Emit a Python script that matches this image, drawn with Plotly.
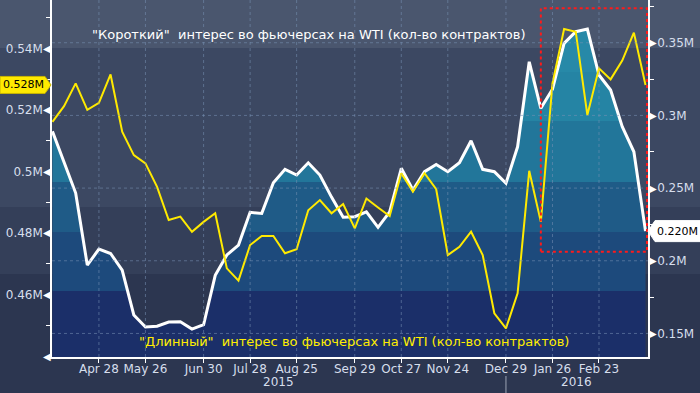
import plotly.graph_objects as go
import pandas as pd

# ---------------- data ----------------
dates = pd.date_range("2015-03-31", periods=52, freq="7D")

# "Короткий" (short) interest, millions of contracts (right axis, white)
short_vals = [0.289, 0.268, 0.2466, 0.197, 0.208, 0.205, 0.1936, 0.1627, 0.1544, 0.155,
              0.1578, 0.158, 0.153, 0.156, 0.190, 0.204, 0.2108, 0.2333, 0.2326, 0.2537,
              0.2629, 0.259, 0.2674, 0.259, 0.2438, 0.2299, 0.2303, 0.2337, 0.223, 0.2337,
              0.2636, 0.2487, 0.2613, 0.2663, 0.2613, 0.2674, 0.2826, 0.2629, 0.2613, 0.2533,
              0.2784, 0.3369, 0.3049, 0.318, 0.3496, 0.3576, 0.3594, 0.3278, 0.3175, 0.2922,
              0.275, 0.2204]

# "Длинный" (long) interest, millions of contracts (left axis, yellow)
long_vals = [0.5161, 0.5212, 0.5286, 0.52, 0.5223, 0.5315, 0.5129, 0.5053, 0.5026, 0.495,
             0.4842, 0.4853, 0.4804, 0.4836, 0.4864, 0.4685, 0.4645, 0.4761, 0.479, 0.479,
             0.4734, 0.4747, 0.4874, 0.4907, 0.4864, 0.4894, 0.4815, 0.4912, 0.4883, 0.4855,
             0.4994, 0.4934, 0.4994, 0.4942, 0.4728, 0.4755, 0.4804, 0.4728, 0.4539, 0.449,
             0.4604, 0.5002, 0.4836, 0.5286, 0.5463, 0.5454, 0.5183, 0.5335, 0.5299, 0.536,
             0.5451, 0.5281]

tick_dates = ["2015-04-28", "2015-05-26", "2015-06-30", "2015-07-28", "2015-08-25",
              "2015-09-29", "2015-10-27", "2015-11-24", "2015-12-29", "2016-01-26",
              "2016-02-23"]
tick_text = ["Apr 28", "May 26", "Jun 30", "Jul 28", "Aug 25", "Sep 29", "Oct 27",
             "Nov 24", "Dec 29", "Jan 26", "Feb 23"]

left_ticks = [0.46, 0.48, 0.50, 0.52, 0.54]
left_tick_text = ["0.46M", "0.48M", "0.5M", "0.52M", "0.54M"]
right_ticks = [0.15, 0.20, 0.25, 0.30, 0.35]
right_tick_text = ["0.15M", "0.2M", "0.25M", "0.3M", "0.35M"]

title_short = "\"Короткий\"  интерес во фьючерсах на WTI (кол-во контрактов)"
title_long = "\"Длинный\"  интерес во фьючерсах на WTI (кол-во контрактов)"

# ---------------- layout constants ----------------
W, H = 700, 393
ML, MR, MT, MB = 52, 52, 0, 36
PW, PH = W - ML - MR, H - MT - MB
X_RANGE = ["2015-03-30 18:00", "2016-03-23 12:00"]
Y_LEFT = [0.4397, 0.5557]
Y_RIGHT = [0.1338, 0.3794]
FONT = "DejaVu Sans"
TICK_COL = "#d6deec"


def py2paper(py):
    return (MT + PH - py) / PH


def px2paper(px):
    return (px - ML) / PW


# stepped vertical colour bands for the area under the white line
band_edges = [0.1792, 0.2198, 0.2541, 0.2961, 0.3298]
band_cols = ["#1b2f69", "#1d4a7c", "#1f5b87", "#22769a", "#2584a4", "#2789a8"]
span = Y_RIGHT[1] - Y_RIGHT[0]
cs = []
edges = [Y_RIGHT[0]] + band_edges + [Y_RIGHT[1]]
for k, c in enumerate(band_cols):
    cs.append([(edges[k] - Y_RIGHT[0]) / span, c])
    cs.append([(edges[k + 1] - Y_RIGHT[0]) / span, c])
cs[0][0] = 0.0
cs[-1][0] = 1.0

fig = go.Figure()
fig.add_trace(go.Scatter(
    x=dates, y=short_vals, yaxis="y", mode="lines",
    line=dict(color="white", width=3),
    fill="tozeroy",
    fillgradient=dict(type="vertical", start=Y_RIGHT[0], stop=Y_RIGHT[1], colorscale=cs),
    hoverinfo="skip", showlegend=False))
fig.add_trace(go.Scatter(
    x=dates, y=long_vals, yaxis="y2", mode="lines",
    line=dict(color="#ffea00", width=2),
    hoverinfo="skip", showlegend=False))

shapes = []
# figure background bands
bg_bands = [(0, 48, "#4a566e"), (48, 207, "#3c4862"), (207, 274, "#343f59"), (274, 400, "#2c3650")]
for top, bot, col in bg_bands:
    shapes.append(dict(type="rect", xref="paper", yref="paper", x0=-0.2, x1=1.2,
                       y0=py2paper(bot), y1=py2paper(top) if top > 0 else 1.05,
                       fillcolor=col, line=dict(width=0), layer="below"))

grid_line = dict(color="rgba(120,145,180,0.55)", width=1, dash="3px,3px")
for v in right_ticks:
    shapes.append(dict(type="line", xref="paper", yref="y", x0=0, x1=1, y0=v, y1=v,
                       line=grid_line, layer="above"))
for d in tick_dates:
    shapes.append(dict(type="line", xref="x", yref="paper", x0=d, x1=d, y0=0, y1=1,
                       line=grid_line, layer="above"))

# red dotted highlight box (Jan 19 2016 to end)
shapes.append(dict(type="rect", xref="x", yref="y",
                   x0=dates[42], x1=pd.Timestamp(X_RANGE[1]) - pd.Timedelta(hours=14),
                   y0=0.2062, y1=0.3737,
                   line=dict(color="#ff1a1a", width=2, dash="dot"), layer="above"))

# year separator below axis
sep_date = pd.Timestamp(tick_dates[8])
shapes.append(dict(type="line", xref="x", yref="paper", x0=sep_date, x1=sep_date,
                   y0=py2paper(376), y1=py2paper(395),
                   line=dict(color="#9aa3b5", width=1)))

# value tags
lh = 8.5 * (Y_LEFT[1] - Y_LEFT[0]) / PH
yl = long_vals[-1]
x0, x1, xt = px2paper(0), px2paper(45), px2paper(51)
shapes.append(dict(type="path", xref="paper", yref="y2",
                   path=f"M {x0},{yl - lh} L {x1},{yl - lh} L {xt},{yl} L {x1},{yl + lh} L {x0},{yl + lh} Z",
                   fillcolor="#ffea00", line=dict(color="#c8b400", width=1), layer="above"))
rh = 10.5 * (Y_RIGHT[1] - Y_RIGHT[0]) / PH
yr = short_vals[-1]
r0, r1, rt = px2paper(701), px2paper(655), px2paper(648)
shapes.append(dict(type="path", xref="paper", yref="y",
                   path=f"M {r0},{yr - rh} L {r1},{yr - rh} L {rt},{yr} L {r1},{yr + rh} L {r0},{yr + rh} Z",
                   fillcolor="white", line=dict(color="white", width=1), layer="above"))


def ann(**kw):
    base = dict(showarrow=False, xanchor="center", yanchor="middle")
    base.update(kw)
    return base


annotations = []
annotations.append(ann(xref="paper", yref="y2", x=px2paper(23), y=yl, text=f"{yl:.3f}M",
                       font=dict(family=FONT, size=11, color="black")))
annotations.append(ann(xref="paper", yref="y", x=px2paper(677), y=yr, text=f"{yr:.3f}M",
                       font=dict(family=FONT, size=11, color="black")))
# axis triangles
for v in [0.44] + left_ticks:
    annotations.append(ann(xref="paper", yref="y2", x=0, y=v, text="◀",
                           xanchor="right", xshift=1, font=dict(family=FONT, size=10, color="white")))
for v in right_ticks:
    annotations.append(ann(xref="paper", yref="y", x=1, y=v, text="▶",
                           xanchor="left", xshift=-1, font=dict(family=FONT, size=10, color="white")))
# series titles
annotations.append(ann(xref="paper", yref="paper", x=px2paper(309), y=py2paper(35), text=title_short,
                       font=dict(family=FONT, size=13, color="white")))
annotations.append(ann(xref="paper", yref="paper", x=px2paper(354), y=py2paper(341), text=title_long,
                       font=dict(family=FONT, size=13, color="#ffee00")))
# year labels
start_ts, end_ts = pd.Timestamp(X_RANGE[0]), pd.Timestamp(X_RANGE[1])
tot = (end_ts - start_ts).total_seconds()
sep_p = (sep_date - start_ts).total_seconds() / tot
for txt, xc in [("2015", sep_p / 2), ("2016", (sep_p + 1) / 2)]:
    annotations.append(ann(xref="paper", yref="paper", x=xc, y=py2paper(382), text=txt,
                           font=dict(family=FONT, size=12, color=TICK_COL)))

fig.update_layout(
    width=W, height=H,
    margin=dict(l=ML, r=MR, t=MT, b=MB, autoexpand=False),
    paper_bgcolor="#2c3650", plot_bgcolor="rgba(0,0,0,0)",
    showlegend=False,
    xaxis=dict(type="date", range=X_RANGE, tickvals=tick_dates, ticktext=tick_text,
               showgrid=False, zeroline=False, showline=True, linecolor="white", linewidth=1.5,
               ticks="outside", ticklen=4, tickcolor="white", ticklabelstandoff=-4,
               tickfont=dict(family=FONT, size=12, color=TICK_COL)),
    yaxis=dict(side="right", range=Y_RIGHT, tickvals=right_ticks, ticktext=right_tick_text,
               showgrid=False, zeroline=False, showline=True, linecolor="white", linewidth=1.5,
               ticks="", ticklabelstandoff=5,
               minor=dict(tickvals=[0.175, 0.225, 0.275, 0.325, 0.375], ticks="outside",
                          ticklen=4, tickcolor="white"),
               tickfont=dict(family=FONT, size=12, color=TICK_COL)),
    yaxis2=dict(side="left", overlaying="y", range=Y_LEFT, tickvals=left_ticks, ticktext=left_tick_text,
                showgrid=False, zeroline=False, showline=True, linecolor="white", linewidth=1.5,
                ticks="", ticklabelstandoff=5,
                minor=dict(tickvals=[0.45, 0.47, 0.49, 0.51, 0.53, 0.55], ticks="outside",
                           ticklen=4, tickcolor="white"),
                tickfont=dict(family=FONT, size=12, color=TICK_COL)),
    shapes=shapes, annotations=annotations,
)

fig.write_html(
    "out.html",
    config={"displayModeBar": False},
    post_script="document.body.style.margin='0px';document.body.style.padding='0px';"
                "document.body.style.overflow='hidden';document.body.style.background='#2c3650';",
)
